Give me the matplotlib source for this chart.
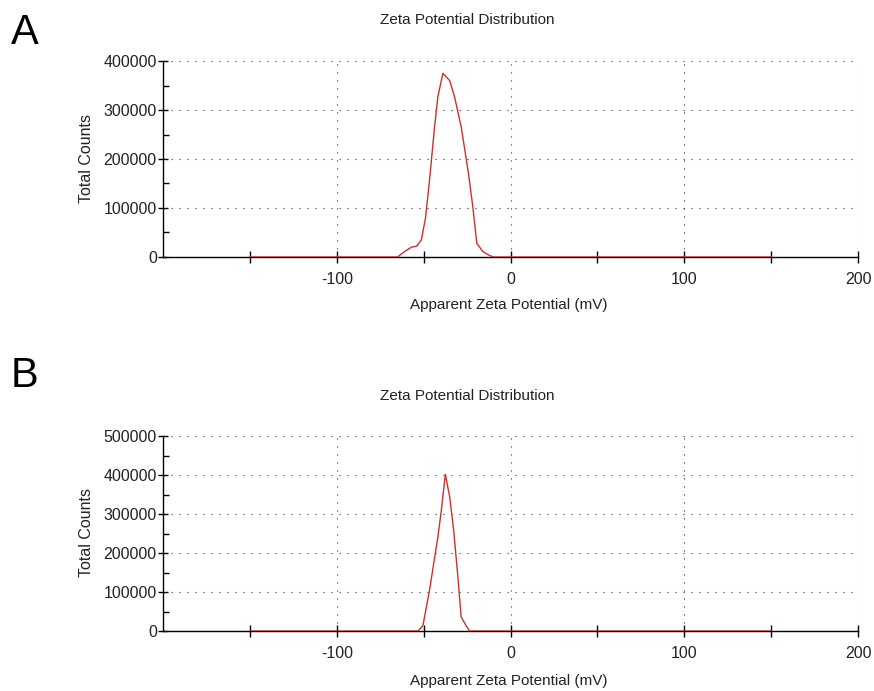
import numpy as np
import matplotlib.pyplot as plt
from matplotlib.ticker import MultipleLocator, FixedLocator

plt.rcParams['axes.unicode_minus'] = False

FONT = 'Liberation Sans'
LINE_RED = '#c83232'
TXT = '#222222'

# Panel A: zeta potential distribution (mV vs total counts)
a_mv = [-150, -65, -61, -57, -54, -51.3, -48.9, -46.6, -43.7, -41.8, -38.9,
        -35, -32.2, -28.4, -24.5, -21.7, -19.4, -15.9, -12, -10, 150]
a_counts = [0, 0, 11000, 20000, 22000, 35000, 80000, 157000, 266000, 327000,
            375000, 360000, 327000, 266000, 178000, 103000, 28000, 11000,
            3000, 0, 0]

# Panel B
b_mv = [-150, -53.3, -50.4, -46.6, -41.8, -39.8, -37.5, -35, -32.7, -30.3,
        -28.4, -26.4, -23.6, 150]
b_counts = [0, 0, 14000, 105000, 241000, 310000, 402000, 344000, 258000,
            139000, 36000, 20000, 0, 0]

panels = [
    ('A', a_mv, a_counts, 400000, [0.1865, 0.6281, 0.7952, 0.2836], 0.971, 0.5586, 0.771, 0.952),
    ('B', b_mv, b_counts, 500000, [0.1865, 0.0868, 0.7952, 0.2822], 0.4268, 0.0145, 0.229, 0.4559),
]

fig = plt.figure(figsize=(8.74, 6.91), dpi=100)

for letter, xs, ys, ytop, pos, title_y, xlab_y, ylab_y, letter_y in panels:
    ax = fig.add_axes(pos)
    ax.plot(xs, ys, color=LINE_RED, linewidth=1.0, zorder=3)
    ax.set_xlim(-200, 200)
    ax.set_ylim(0, ytop)

    ax.xaxis.set_major_locator(FixedLocator([-100, 0, 100, 200]))
    ax.xaxis.set_minor_locator(FixedLocator([-150, -50, 50, 150]))
    ax.yaxis.set_major_locator(MultipleLocator(100000))
    ax.yaxis.set_minor_locator(MultipleLocator(50000))

    for s in ['top', 'right']:
        ax.spines[s].set_visible(False)
    for s in ['left', 'bottom']:
        ax.spines[s].set_linewidth(1.0)
        ax.spines[s].set_color('black')

    ax.tick_params(axis='x', which='both', direction='inout', length=8,
                   width=1.0, pad=7, labelsize=11.5)
    ax.tick_params(axis='y', which='major', direction='inout', length=7,
                   width=1.0, pad=1, labelsize=11.5)
    ax.tick_params(axis='y', which='minor', direction='in', length=4, width=1.0)
    for lab in ax.get_xticklabels() + ax.get_yticklabels():
        lab.set_fontfamily(FONT)
        lab.set_color(TXT)

    ax.grid(True, which='major', color='#333333', linewidth=0.8,
            linestyle=(0, (1, 6.2)))
    ax.set_axisbelow(True)

    fig.text(0.535, title_y, 'Zeta Potential Distribution', ha='center',
             va='center', fontsize=11, family=FONT, color=TXT)
    fig.text(0.582, xlab_y, 'Apparent Zeta Potential (mV)', ha='center',
             va='center', fontsize=11, family=FONT, color=TXT)
    fig.text(0.099, ylab_y, 'Total Counts', ha='center', va='center',
             rotation=90, fontsize=11.5, family=FONT, color=TXT)
    fig.text(0.0286, letter_y, letter, ha='center', va='center',
             fontsize=30, family=FONT, color='black')

fig.savefig('out.png', dpi=100)
